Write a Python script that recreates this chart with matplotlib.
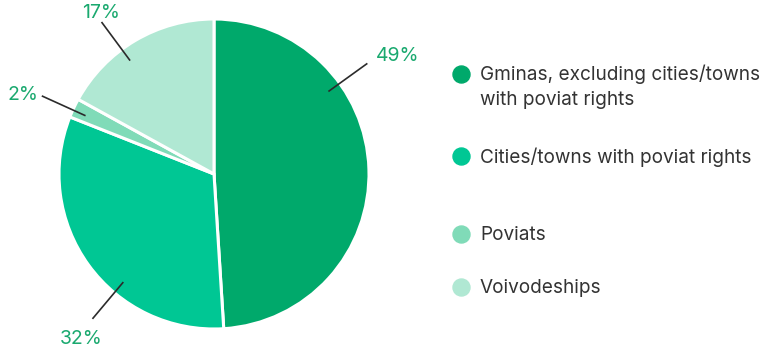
import numpy as np
import matplotlib.pyplot as plt

plt.rcParams['font.family'] = ['Inter', 'DejaVu Sans']

labels = ['Gminas, excluding cities/towns\nwith poviat rights',
          'Cities/towns with poviat rights',
          'Poviats',
          'Voivodeships']
shares = [49, 32, 2, 17]
colors = ['#00a96b', '#00c794', '#80dbb8', '#b0e8d3']

# leader lines: angle (deg), text angle, text radius (in units of pie radius)
leader_ang = [35.8, 230, 155.6, 126.5]
text_ang = [32.6, 231.2, 157.6, 125.2]
text_r = [1.41, 1.37, 1.33, 1.27]

W, H = 769, 349
fig = plt.figure(figsize=(W / 100, H / 100), dpi=100)
ax = fig.add_axes([0, 0, 1, 1])

cx, cy, R = 214, 175, 155
ax.pie(shares, colors=colors, startangle=90, counterclock=False,
       center=(cx, cy), radius=R, frame=True,
       wedgeprops=dict(edgecolor='white', linewidth=2.2))
ax.set_xlim(0, W)
ax.set_ylim(0, H)
ax.set_aspect('equal')
ax.axis('off')

for s, a, ta, tr in zip(shares, leader_ang, text_ang, text_r):
    t = np.radians(a)
    x0, y0 = cx + 0.91 * R * np.cos(t), cy + 0.91 * R * np.sin(t)
    x1, y1 = cx + 1.22 * R * np.cos(t), cy + 1.22 * R * np.sin(t)
    ax.plot([x0, x1], [y0, y1], color='#2b2b2b', lw=1.2, solid_capstyle='butt')
    tt = np.radians(ta)
    ax.text(cx + tr * R * np.cos(tt), cy + tr * R * np.sin(tt), f'{s}%',
            color='#1aa96f', fontsize=14, ha='center', va='center')

# legend
leg_y = [275, 193, 115, 62]
for lab, c, y in zip(labels, colors, leg_y):
    ax.scatter([461], [y], s=150, color=c, zorder=3)
    if '\n' in lab:
        ax.text(480, y + 10, lab, fontsize=13.7, color='#333333', va='top',
                linespacing=1.55)
    else:
        ax.text(480, y - 1, lab, fontsize=13.7, color='#333333', va='center')

fig.savefig('out.png', dpi=100)
